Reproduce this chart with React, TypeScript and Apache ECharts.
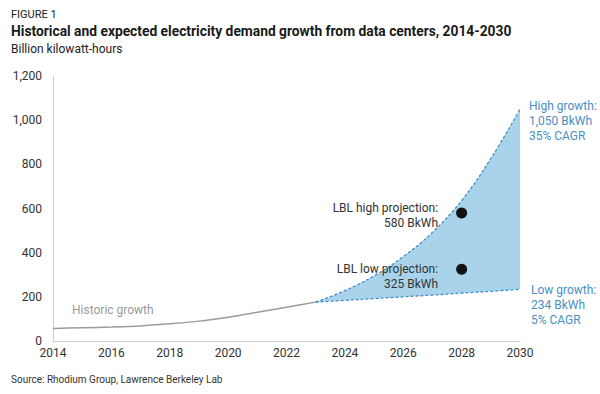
import React, { useEffect, useRef } from "react";
import * as echarts from "echarts";

const years = ["2014", "2015", "2016", "2017", "2018", "2019", "2020", "2021", "2022", "2023", "2024", "2025", "2026", "2027", "2028", "2029", "2030"];
const historicValues = [57, 60, 63, 68, 78, 90, 108, 130, 153, 176, null, null, null, null, null, null, null];
const highValues = [null, null, null, null, null, null, null, null, null, 176, 228, 295, 382, 492, 636, 826, 1050];
const lowValues = [null, null, null, null, null, null, null, null, null, 176, 184, 192, 200, 208, 217, 225, 234];

const lblYear = "2028";
const lblHigh = 580;
const lblLow = 325;

const FONT = "Roboto, 'Noto Sans', sans-serif";
const BLUE_TEXT = "#4a8fc4";
const BLUE_LINE = "#3b8ac4";
const FILL = "#a9d3ea";

export default function App() {
  const ref = useRef<HTMLDivElement>(null);
  useEffect(() => {
    if (!ref.current) return;
    const chart = echarts.init(ref.current, null, { renderer: "svg" });
    const band = highValues.map((h, i) =>
      h === null || lowValues[i] === null ? null : (h as number) - (lowValues[i] as number)
    );
    chart.setOption({
      animation: false,
      textStyle: { fontFamily: FONT },
      grid: { left: 53, right: 80, top: 76, bottom: 53, outerBoundsMode: "none", containLabel: false },
      xAxis: {
        type: "category",
        data: years,
        boundaryGap: false,
        axisLine: { show: true, lineStyle: { color: "#cfcfcf", width: 1 } },
        axisTick: { show: false },
        splitLine: { show: false },
        axisLabel: {
          interval: 1,
          color: "#333",
          fontSize: 12,
          margin: 6,
          fontFamily: FONT,
        },
      },
      yAxis: {
        type: "value",
        min: 0,
        max: 1200,
        interval: 200,
        axisLine: { show: true, lineStyle: { color: "#cfcfcf", width: 1 } },
        axisTick: { show: false },
        splitLine: { show: false },
        axisLabel: {
          color: "#333",
          fontSize: 12,
          margin: 11,
          fontFamily: FONT,
          formatter: (v: number) => v.toLocaleString("en-US"),
        },
      },
      series: [
        {
          type: "line",
          name: "bandBase",
          data: lowValues,
          stack: "band",
          smooth: 0.4,
          symbol: "none",
          lineStyle: { opacity: 0 },
          areaStyle: { opacity: 0 },
          silent: true,
          z: 1,
        },
        {
          type: "line",
          name: "band",
          data: band,
          stack: "band",
          smooth: 0.4,
          symbol: "none",
          lineStyle: { opacity: 0 },
          areaStyle: { color: FILL, opacity: 1 },
          silent: true,
          z: 1,
        },
        {
          type: "line",
          name: "Historic",
          data: historicValues,
          smooth: 0.3,
          symbol: "none",
          lineStyle: { color: "#9c9c9c", width: 1.5 },
          z: 3,
        },
        {
          type: "line",
          name: "High",
          data: highValues,
          smooth: 0.4,
          symbol: "none",
          lineStyle: { color: BLUE_LINE, width: 1.2, type: [3, 2] },
          z: 3,
          endLabel: {
            show: true,
            formatter: "High growth:\n1,050 BkWh\n35% CAGR",
            color: BLUE_TEXT,
            fontSize: 12,
            lineHeight: 15,
            fontFamily: FONT,
            distance: 9,
            offset: [0, 12],
          },
        },
        {
          type: "line",
          name: "Low",
          data: lowValues,
          smooth: 0.4,
          symbol: "none",
          lineStyle: { color: BLUE_LINE, width: 1.2, type: [3, 2] },
          z: 3,
          endLabel: {
            show: true,
            formatter: "Low growth:\n234 BkWh\n5% CAGR",
            color: BLUE_TEXT,
            fontSize: 12,
            lineHeight: 15,
            fontFamily: FONT,
            distance: 11,
            offset: [0, 16],
          },
        },
        {
          type: "scatter",
          name: "LBL",
          symbolSize: 11,
          itemStyle: { color: "#111", opacity: 1 },
          z: 4,
          data: [
            {
              value: [lblYear, lblHigh],
              label: {
                show: true,
                position: "left",
                distance: 18,
                align: "right",
                formatter: "LBL high projection:\n580 BkWh",
                color: "#333",
                fontSize: 12,
                lineHeight: 15,
                fontFamily: FONT,
                offset: [0, 3],
              },
            },
            {
              value: [lblYear, lblLow],
              label: {
                show: true,
                position: "left",
                distance: 18,
                align: "right",
                formatter: "LBL low projection:\n325 BkWh",
                color: "#333",
                fontSize: 12,
                lineHeight: 15,
                fontFamily: FONT,
                offset: [0, 7],
              },
            },
          ],
        },
      ],
      graphic: [
        {
          type: "text",
          left: 11,
          top: 9,
          style: { text: "FIGURE 1", fill: "#222", font: `11px ${FONT}` },
        },
        {
          type: "text",
          left: 11,
          top: 24,
          style: {
            text: "Historical and expected electricity demand growth from data centers, 2014-2030",
            fill: "#1a1a1a",
            font: `bold 13.8px ${FONT}`,
          },
        },
        {
          type: "text",
          left: 11,
          top: 43,
          style: { text: "Billion kilowatt-hours", fill: "#222", font: `12px ${FONT}` },
        },
        {
          type: "text",
          left: 72,
          top: 304,
          style: { text: "Historic growth", fill: "#9a9a9a", font: `12px ${FONT}` },
        },
        {
          type: "text",
          left: 11,
          top: 374,
          style: {
            text: "Source: Rhodium Group, Lawrence Berkeley Lab",
            fill: "#333",
            font: `10px ${FONT}`,
          },
        },
      ],
    });
    return () => chart.dispose();
  }, []);
  return (
    <div
      ref={ref}
      style={{ position: "absolute", left: 0, top: 0, width: 600, height: 394 }}
    />
  );
}
